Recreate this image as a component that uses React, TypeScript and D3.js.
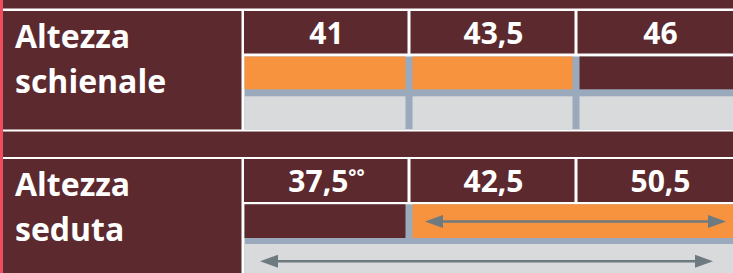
import React from "react";
import * as d3 from "d3";

// ---- data ----
const rowLabels: string[][] = [
  ["Altezza", "schienale"],
  ["Altezza", "seduta"],
];
const schienaleValues: string[] = ["41", "43,5", "46"];
const sedutaValues: string[] = ["37,5", "42,5", "50,5"];
const sedutaMarks: string[] = ["°°", "", ""];
// orange range (column index start, end) per row
const schienaleOrange: number[] = [0, 2];
const sedutaOrange: number[] = [1, 3];
// full adjustable range (gray row arrow)
const sedutaFull: number[] = [0, 3];

const W = 733;
const H = 273;
const MAROON = "#5c2a2e";
const ORANGE = "#f7923e";
const BLUE = "#9aa9bb";
const LIGHT = "#d9dadc";
const PINK = "#ee4d5f";
const ARROW = "#6d7a80";
const FONT = "'Open Sans', sans-serif";

const x = d3.scaleLinear().domain([0, 3]).range([242, 743]);

function Arrow({ x1, x2, y }: { x1: number; x2: number; y: number }) {
  const hl = 18;
  const hh = 6.5;
  return (
    <g>
      <line x1={x1 + hl - 1} x2={x2 - hl + 1} y1={y} y2={y} stroke={ARROW} strokeWidth={2.6} />
      <path d={`M${x1},${y}L${x1 + hl},${y - hh}L${x1 + hl},${y + hh}Z`} fill={ARROW} />
      <path d={`M${x2},${y}L${x2 - hl},${y - hh}L${x2 - hl},${y + hh}Z`} fill={ARROW} />
    </g>
  );
}

function cellX(i: number, pad: number) {
  return i === 0 ? 244.5 : x(i) + pad;
}

export default function App() {
  const cols = d3.range(3);

  // section geometry
  const s1 = { top: 8.5, hTop: 11, hBot: 53.5, dTop: 56.5, bTop: 89.3, bBot: 96.3, gBot: 129.5, bottom: 131.5 };
  const s2 = { top: 157, hTop: 159, hBot: 202, dTop: 204.3, bTop: 238, bBot: 244, gBot: 290, bottom: 290 };

  const header = (values: string[], marks: string[] | null, s: any) =>
    cols.map((i) => {
      const x0 = i === 0 ? 244 : x(i) + 1.5;
      const x1 = x(i + 1) - 1.5;
      const cx = (x(i) + x(i + 1)) / 2 + 1;
      return (
        <g key={"h" + i}>
          <rect x={x0} y={s.hTop} width={x1 - x0} height={s.hBot - s.hTop} fill={MAROON} />
          <text
            x={cx}
            y={s.hTop + 33}
            textAnchor="middle"
            fill="#fff"
            fontFamily={FONT}
            fontWeight={700}
            fontSize={30}
          >
            {values[i]}
            {marks && marks[i] ? (
              <tspan fontSize={19} dy={-8}>
                {marks[i]}
              </tspan>
            ) : null}
          </text>
        </g>
      );
    });

  const label = (lines: string[], s: any) => (
    <g>
      <rect x={3} y={s.hTop} width={241.5 - 3} height={s.gBot - s.hTop} fill={MAROON} />
      {lines.map((t, k) => (
        <text
          key={k}
          x={15}
          y={s.hTop + 37 + k * 45}
          fill="#fff"
          fontFamily={FONT}
          fontWeight={700}
          fontSize={32}
        >
          {t}
        </text>
      ))}
    </g>
  );

  return (
    <svg
      width={W}
      height={H}
      style={{ position: "fixed", left: 0, top: 0, display: "block" }}
      xmlns="http://www.w3.org/2000/svg"
    >
      <rect x={0} y={0} width={W} height={H} fill={MAROON} />

      {/* Section 1: Altezza schienale */}
      <rect x={3} y={s1.top} width={W - 3} height={s1.bottom - s1.top} fill="#fff" />
      {label(rowLabels[0], s1)}
      {header(schienaleValues, null, s1)}
      <rect x={244.5} y={s1.dTop} width={W - 244.5} height={s1.gBot - s1.dTop} fill={BLUE} />
      {cols.map((i) => {
        const x0 = cellX(i, 3.5);
        const x1 = x(i + 1) - 3.5;
        const on = i >= schienaleOrange[0] && i < schienaleOrange[1];
        return (
          <g key={"c1" + i}>
            <rect x={x0} y={s1.dTop} width={x1 - x0} height={s1.bTop - s1.dTop} fill={on ? ORANGE : MAROON} />
            <rect x={x0} y={s1.bBot} width={x1 - x0} height={s1.gBot - s1.bBot} fill={LIGHT} />
          </g>
        );
      })}

      {/* Section 2: Altezza seduta */}
      <rect x={3} y={s2.top} width={W - 3} height={H - s2.top} fill="#fff" />
      {label(rowLabels[1], s2)}
      {header(sedutaValues, sedutaMarks, s2)}
      <rect x={244.5} y={s2.dTop} width={W - 244.5} height={H - s2.dTop} fill={BLUE} />
      {cols
        .filter((i) => i < sedutaOrange[0])
        .map((i) => {
          const x0 = cellX(i, 3.5);
          const x1 = x(i + 1) - 3.5;
          return <rect key={"d2" + i} x={x0} y={s2.dTop} width={x1 - x0} height={s2.bTop - s2.dTop} fill={MAROON} />;
        })}
      <rect
        x={cellX(sedutaOrange[0], 3.5)}
        y={s2.dTop}
        width={x(sedutaOrange[1]) - 3.5 - cellX(sedutaOrange[0], 3.5)}
        height={s2.bTop - s2.dTop}
        fill={ORANGE}
      />
      <rect
        x={cellX(sedutaFull[0], 3.5)}
        y={s2.bBot}
        width={x(sedutaFull[1]) - 3.5 - cellX(sedutaFull[0], 3.5)}
        height={s2.gBot - s2.bBot}
        fill={LIGHT}
      />
      <Arrow x1={x(sedutaOrange[0]) + 16} x2={x(sedutaOrange[1]) - 17} y={(s2.dTop + s2.bTop) / 2 + 0.3} />
      <Arrow x1={x(sedutaFull[0]) + 18} x2={x(sedutaFull[1]) - 30} y={261.3} />

      {/* left pink strip */}
      <rect x={0} y={0} width={3} height={H} fill={PINK} />
    </svg>
  );
}
